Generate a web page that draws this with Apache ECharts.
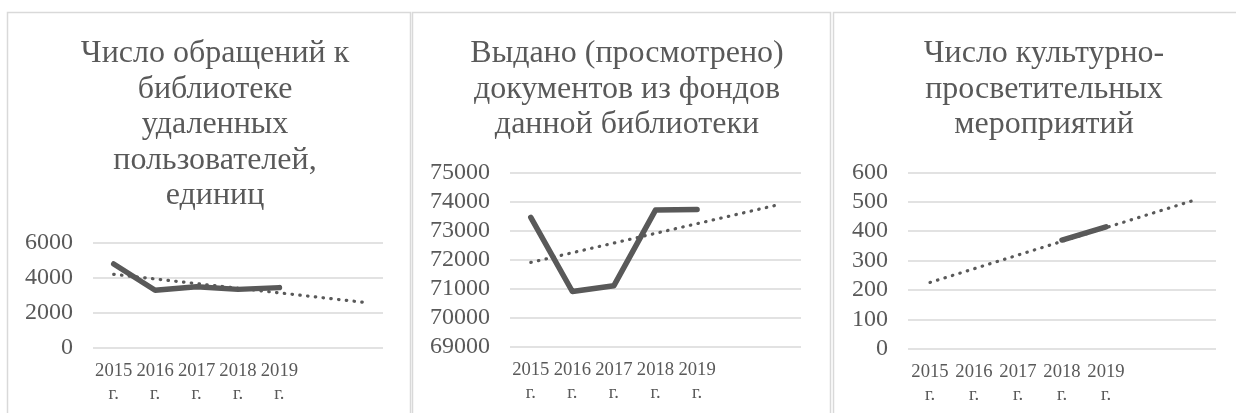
<!DOCTYPE html>
<html>
<head>
<meta charset="utf-8">
<script src="https://cdn.jsdelivr.net/npm/echarts@6/dist/echarts.min.js"></script>
<style>
html,body{margin:0;padding:0;background:#fff;}
#c{width:1236px;height:413px;}
</style>
</head>
<body>
<div id="c"></div>
<script>
// Categories (two empty slots for the trend-line forecast)
const categories = ['2015\nг.', '2016\nг.', '2017\nг.', '2018\nг.', '2019\nг.', '', ''];

// Panel titles
const title1 = 'Число обращений к\nбиблиотеке\nудаленных\nпользователей,\nединиц';
const title2 = 'Выдано (просмотрено)\nдокументов из фондов\nданной библиотеки';
const title3 = 'Число культурно-\nпросветительных\nмероприятий';

// Series values
const remoteRequests = [4800, 3300, 3500, 3350, 3450];
const documentsIssued = [73450, 70900, 71100, 73700, 73720];
const culturalEvents = [null, null, null, 370, 415];

// Linear trend lines: [categoryIndex, value]
const trend1 = [[0, 4210], [6, 2620]];
const trend2 = [[0, 71900], [6, 73900]];
const trend3 = [[0, 226], [6, 505]];

// Y axis ranges
const yRange1 = {min: 0, max: 6000, interval: 2000};
const yRange2 = {min: 69000, max: 75000, interval: 1000};
const yRange3 = {min: 0, max: 600, interval: 100};

const FONT = "'Liberation Serif', 'Times New Roman', serif";
const TXT = '#595959';
const GRID = '#d9d9d9';

function xAxis(gi) {
  return {
    type: 'category', gridIndex: gi, data: categories, boundaryGap: true,
    axisLine: {show: false}, axisTick: {show: false},
    axisLabel: {interval: 0, color: TXT, fontFamily: FONT, fontSize: 18.67, lineHeight: 23, margin: 12}
  };
}
function yAxis(gi, r) {
  return {
    type: 'value', gridIndex: gi, min: r.min, max: r.max, interval: r.interval,
    axisLine: {show: false}, axisTick: {show: false},
    axisLabel: {color: TXT, fontFamily: FONT, fontSize: 24, margin: 20, formatter: v => String(v)},
    splitLine: {lineStyle: {color: GRID, width: 1.5}}
  };
}
function mainLine(i, data) {
  return {
    type: 'line', xAxisIndex: i, yAxisIndex: i, data: data, symbol: 'none',
    lineStyle: {color: '#595959', width: 5.5, cap: 'round', join: 'round'},
    z: 3, animation: false
  };
}
function trendLine(i, data) {
  return {
    type: 'line', xAxisIndex: i, yAxisIndex: i, data: data, symbol: 'none',
    lineStyle: {color: '#595959', width: 3.2, type: [0.5, 7.3], cap: 'round'},
    z: 2, animation: false
  };
}
function titleAt(text, x) {
  return {
    text: text, left: x, top: 31, textAlign: 'center',
    textStyle: {color: TXT, fontFamily: FONT, fontSize: 32, fontWeight: 'normal', lineHeight: 35.5}
  };
}

const chart = echarts.init(document.getElementById('c'), null, {renderer: 'canvas'});
chart.setOption({
  animation: false,
  backgroundColor: '#fff',
  title: [titleAt(title1, 210), titleAt(title2, 622), titleAt(title3, 1039)],
  graphic: [
    {type: 'rect', shape: {x: 7.5, y: 12.5, width: 403, height: 500}, style: {fill: 'none', stroke: GRID, lineWidth: 1.5}, silent: true},
    {type: 'rect', shape: {x: 412.5, y: 12.5, width: 418, height: 500}, style: {fill: 'none', stroke: GRID, lineWidth: 1.5}, silent: true},
    {type: 'rect', shape: {x: 833.5, y: 12.5, width: 450, height: 500}, style: {fill: 'none', stroke: GRID, lineWidth: 1.5}, silent: true}
  ],
  grid: [
    {left: 93, right: 853, top: 243, bottom: 65},
    {left: 510, right: 435, top: 172.3, bottom: 66.3},
    {left: 908, right: 20, top: 172.3, bottom: 64}
  ],
  xAxis: [xAxis(0), xAxis(1), xAxis(2)],
  yAxis: [yAxis(0, yRange1), yAxis(1, yRange2), yAxis(2, yRange3)],
  series: [
    mainLine(0, remoteRequests), trendLine(0, trend1),
    mainLine(1, documentsIssued), trendLine(1, trend2),
    mainLine(2, culturalEvents), trendLine(2, trend3)
  ]
});
</script>
</body>
</html>
